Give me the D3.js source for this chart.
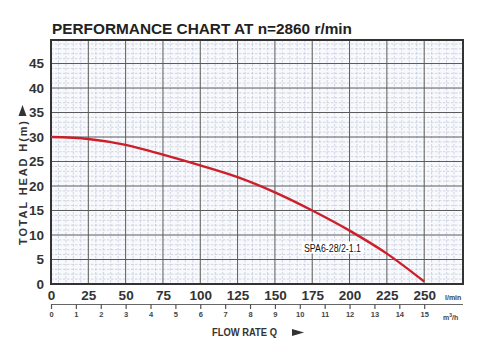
<!DOCTYPE html>
<html>
<head>
<meta charset="utf-8">
<script src="https://cdn.jsdelivr.net/npm/d3@7"></script>
<style>
  html, body { margin: 0; padding: 0; background: #fff; }
  svg { display: block; }
  text { font-family: "Liberation Sans", Arial, sans-serif; }
</style>
</head>
<body>
<svg id="chart" width="492" height="344"></svg>
<script>
// Pump head curve at n = 2860 r/min
const flowLpm = [0, 25, 50, 75, 100, 125, 150, 175, 200, 225, 250];
const headM   = [30, 29.6, 28.4, 26.4, 24.2, 21.8, 18.7, 15.0, 10.9, 6.2, 0.5];
const flowTicks = [0, 25, 50, 75, 100, 125, 150, 175, 200, 225, 250];
const cubicTicks = d3.range(0, 16);          // m³/h
const headTicks = [0, 5, 10, 15, 20, 25, 30, 35, 40, 45];
const curveName = "SPA6-28/2-1.1";

const svg = d3.select("#chart");
const plotL = 51, plotR = 463, plotT = 40, plotB = 284;

const x = d3.scaleLinear().domain([0, 276]).range([plotL, plotR]);
const y = d3.scaleLinear().domain([0, 49.8]).range([plotB, plotT]);
const xc = d3.scaleLinear().domain([0, 15]).range([x(0), x(250)]);

// title
svg.append("text")
  .attr("x", 52).attr("y", 34)
  .attr("font-size", 15.5).attr("font-weight", "bold").attr("fill", "#222")
  .attr("textLength", 300).attr("lengthAdjust", "spacingAndGlyphs")
  .text("PERFORMANCE CHART AT n=2860 r/min");

const grid = svg.append("g");
grid.append("rect")
  .attr("x", plotL).attr("y", plotT).attr("width", plotR - plotL).attr("height", plotB - plotT)
  .attr("fill", "#f8f9fc");

// fine grid
grid.append("g").selectAll("line")
  .data(d3.range(0, 276, 5).filter(v => v % 25 !== 0))
  .join("line")
  .attr("x1", d => x(d)).attr("x2", d => x(d))
  .attr("y1", plotT).attr("y2", plotB)
  .attr("stroke", "#b4bdd0").attr("stroke-width", 0.6)
  .attr("stroke-dasharray", "2.5,1.5");
grid.append("g").selectAll("line")
  .data(d3.range(1, 50, 1).filter(v => v % 5 !== 0))
  .join("line")
  .attr("x1", plotL).attr("x2", plotR)
  .attr("y1", d => y(d)).attr("y2", d => y(d))
  .attr("stroke", "#b4bdd0").attr("stroke-width", 0.6)
  .attr("stroke-dasharray", "2.5,1.5");

// major grid
grid.append("g").selectAll("line")
  .data(flowTicks.slice(1))
  .join("line")
  .attr("x1", d => x(d)).attr("x2", d => x(d))
  .attr("y1", plotT).attr("y2", plotB)
  .attr("stroke", "#5a5a5a").attr("stroke-width", 1);
grid.append("g").selectAll("line")
  .data(d3.range(5, 50, 5))
  .join("line")
  .attr("x1", plotL).attr("x2", plotR)
  .attr("y1", d => y(d)).attr("y2", d => y(d))
  .attr("stroke", "#5a5a5a").attr("stroke-width", 1);

// frame
svg.append("rect")
  .attr("x", plotL).attr("y", plotT).attr("width", plotR - plotL).attr("height", plotB - plotT)
  .attr("fill", "none").attr("stroke", "#333").attr("stroke-width", 2);

// head axis labels
const yAxis = svg.append("g")
  .attr("transform", `translate(${plotL},0)`)
  .call(d3.axisLeft(y).tickValues(headTicks).tickSize(0).tickPadding(7));
yAxis.select(".domain").remove();
yAxis.selectAll("text")
  .attr("font-size", 13.5).attr("font-weight", "bold").attr("fill", "#333")
  .attr("font-family", "Liberation Sans, Arial, sans-serif");

// flow axis labels (l/min)
const xAxis = svg.append("g")
  .attr("transform", `translate(0,${plotB})`)
  .call(d3.axisBottom(x).tickValues(flowTicks).tickSize(0).tickPadding(6));
xAxis.select(".domain").remove();
xAxis.selectAll("text")
  .attr("font-size", 13.5).attr("font-weight", "bold").attr("fill", "#333")
  .attr("font-family", "Liberation Sans, Arial, sans-serif");
svg.append("text")
  .attr("x", 445).attr("y", 299.5)
  .attr("font-size", 7).attr("font-weight", "bold").attr("fill", "#444")
  .text("l/min");

// second flow scale (m³/h)
const xcAxis = svg.append("g")
  .attr("transform", `translate(0,304)`)
  .call(d3.axisBottom(xc).tickValues(cubicTicks).tickSize(5).tickPadding(3));
xcAxis.select(".domain")
  .attr("d", `M${plotL},0.5H${plotR}`)
  .attr("stroke", "#666").attr("stroke-width", 1.2);
xcAxis.selectAll(".tick line").attr("stroke", "#555").attr("stroke-width", 1.2);
xcAxis.selectAll("text")
  .attr("font-size", 7.5).attr("font-weight", "bold").attr("fill", "#444")
  .attr("font-family", "Liberation Sans, Arial, sans-serif");
const m3 = svg.append("text")
  .attr("x", 443).attr("y", 320)
  .attr("font-size", 7).attr("font-weight", "bold").attr("fill", "#444");
m3.append("tspan").text("m");
m3.append("tspan").attr("font-size", 5).attr("dy", -3).text("3");
m3.append("tspan").attr("dy", 3).text("/h");

// axis titles
svg.append("text")
  .attr("x", 212).attr("y", 336)
  .attr("font-size", 10.5).attr("font-weight", "bold").attr("fill", "#333")
  .attr("textLength", 65).attr("lengthAdjust", "spacingAndGlyphs")
  .text("FLOW RATE Q");
svg.append("path")
  .attr("d", "M292,329 L304,332.5 L292,336 Z")
  .attr("fill", "#333");

svg.append("text")
  .attr("transform", "translate(26.5,245) rotate(-90)")
  .attr("font-size", 11).attr("font-weight", "bold").attr("fill", "#333")
  .attr("textLength", 124).attr("lengthAdjust", "spacing")
  .text("TOTAL HEAD H(m)");
svg.append("path")
  .attr("d", "M18.5,116 L22.5,105 L26.5,116 Z")
  .attr("fill", "#333");

// head curve
const line = d3.line()
  .x((d, i) => x(flowLpm[i]))
  .y(d => y(d))
  .curve(d3.curveMonotoneX);
svg.append("path")
  .datum(headM)
  .attr("d", line)
  .attr("fill", "none")
  .attr("stroke", "#cc1f2a")
  .attr("stroke-width", 2.4);

// curve label
const lbl = svg.append("g");
const lt = lbl.append("text")
  .attr("x", 304).attr("y", 251.5)
  .attr("font-size", 11.5).attr("fill", "#111")
  .attr("textLength", 57).attr("lengthAdjust", "spacingAndGlyphs")
  .text(curveName);
const bb = lt.node().getBBox();
lbl.insert("rect", "text")
  .attr("x", bb.x - 2).attr("y", bb.y)
  .attr("width", bb.width + 5).attr("height", bb.height)
  .attr("fill", "#fff");
</script>
</body>
</html>
